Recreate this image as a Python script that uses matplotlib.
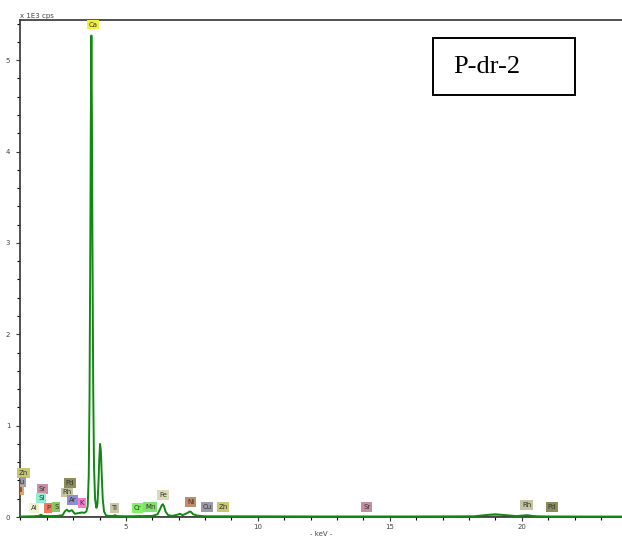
import matplotlib
matplotlib.use("Agg")
import matplotlib.pyplot as plt
from matplotlib.ticker import MultipleLocator
from matplotlib.patches import Rectangle

# Spectrum (keV vs. x1E3 cps)
energy_kev = [1.0, 1.5, 1.7, 1.78, 1.86, 2.1, 2.4, 2.6, 2.68, 2.76, 2.84, 2.95, 3.02, 3.07,
              3.15, 3.25, 3.33, 3.42, 3.50, 3.55, 3.59, 3.62, 3.65, 3.67, 3.69, 3.71, 3.73,
              3.76, 3.79, 3.83, 3.88, 3.92, 3.96, 3.99, 4.02, 4.05, 4.08, 4.12, 4.17, 4.25,
              4.5, 4.58, 4.66, 5.0, 5.5, 6.0, 6.2, 6.3, 6.36, 6.40, 6.44, 6.50, 6.6, 6.75,
              6.95, 7.05, 7.15, 7.3, 7.42, 7.47, 7.55, 7.7, 8.0, 9.0, 12.0, 16.0, 18.2,
              18.6, 19.0, 19.4, 19.8, 20.0, 20.2, 20.4, 20.6, 21.0, 22.5, 23.8]
counts_kcps = [0.005, 0.008, 0.012, 0.025, 0.012, 0.01, 0.012, 0.02, 0.06, 0.08, 0.06, 0.075,
               0.05, 0.035, 0.04, 0.045, 0.05, 0.045, 0.06, 0.12, 0.45, 1.3, 3.0, 4.4, 5.27,
               4.4, 3.0, 1.4, 0.55, 0.2, 0.1, 0.14, 0.38, 0.64, 0.80, 0.72, 0.48, 0.2, 0.06,
               0.015, 0.01, 0.02, 0.01, 0.008, 0.01, 0.012, 0.03, 0.09, 0.13, 0.14, 0.12, 0.06,
               0.02, 0.012, 0.025, 0.035, 0.02, 0.04, 0.06, 0.055, 0.03, 0.015, 0.008, 0.008,
               0.006, 0.006, 0.008, 0.02, 0.03, 0.02, 0.01, 0.015, 0.02, 0.012, 0.008, 0.006,
               0.005, 0.005]

# Background / fit curve (grey)
bg_kev = [1.0, 18.2, 18.6, 19.0, 19.4, 19.8, 20.0, 20.2, 20.4, 21.0, 23.8]
bg_kcps = [0.0, 0.0, 0.008, 0.012, 0.008, 0.0, 0.004, 0.008, 0.004, 0.0, 0.0]

# Element labels
label_text = ["Ca", "Zn", "Cu", "Ni", "Al", "P", "S", "Sr", "Si", "Pd", "Rh", "Ar", "K",
              "Ti", "Cr", "Mn", "Fe", "Ni", "Cu", "Zn", "Sr", "Rh", "Pd"]
label_kev = [3.75, 1.12, 0.99, 0.93, 1.52, 2.05, 2.36, 1.83, 1.79, 2.88, 2.77, 2.99, 3.33,
             4.56, 5.45, 5.92, 6.40, 7.46, 8.07, 8.68, 14.13, 20.19, 21.14]
label_y = [5.39, 0.48, 0.385, 0.295, 0.10, 0.10, 0.11, 0.305, 0.21, 0.37, 0.27, 0.185, 0.155,
           0.10, 0.10, 0.11, 0.24, 0.165, 0.11, 0.11, 0.11, 0.13, 0.11]
label_color = ["#f2f03c", "#c8c870", "#9a9aa8", "#e0a070", "#f4f4cc", "#f27a5a", "#8cc860",
               "#c890a0", "#8ef0d0", "#8c8c5c", "#c4c4a0", "#8e8ed2", "#f07ccc",
               "#c8c8a8", "#84f064", "#80e070", "#dcdcb4", "#c08c6c", "#9a9aa8", "#c8c870",
               "#c490a0", "#c4c4a0", "#8c8c5c"]

fig = plt.figure(figsize=(6.22, 5.38), dpi=100)
ax = fig.add_axes([20 / 622, 1 - 517 / 538, 602 / 622, 497 / 538])

ax.plot(bg_kev, bg_kcps, color="#909090", lw=1.0, zorder=2)
ax.plot(energy_kev, counts_kcps, color="#118811", lw=1.4, zorder=3)

ax.set_xlim(0.985, 23.8)
ax.set_ylim(0, 5.44)

ax.xaxis.set_major_locator(MultipleLocator(5))
ax.xaxis.set_minor_locator(MultipleLocator(1))
ax.yaxis.set_major_locator(MultipleLocator(1))
ax.yaxis.set_minor_locator(MultipleLocator(0.2))
ax.tick_params(axis="both", which="major", direction="out", length=3, width=0.8,
               labelsize=5, pad=2, colors="#333333")
ax.tick_params(axis="both", which="minor", direction="out", length=2.5, width=0.8)
ax.tick_params(axis="x", labelcolor="#444444")
ax.tick_params(axis="y", labelcolor="#444444", pad=4)

ax.spines["right"].set_visible(False)
for s in ["left", "bottom", "top"]:
    ax.spines[s].set_color("#333333")
    ax.spines[s].set_linewidth(1.2)

ax.set_xlabel("- keV -", fontsize=5, labelpad=1, color="#444444")
ax.text(0.0, 1.003, "x 1E3 cps", transform=ax.transAxes, fontsize=5, color="#444444",
        ha="left", va="bottom")

for i, (t, xk, yv, c) in enumerate(zip(label_text, label_kev, label_y, label_color)):
    ax.text(xk, yv, t, fontsize=5, ha="center", va="center", color="#333333", zorder=5,
            clip_on=(i in (2, 3)),
            bbox=dict(boxstyle="square,pad=0.25", facecolor=c, edgecolor="none"))

ax.add_patch(Rectangle((0.686, 0.849), 0.236, 0.115, transform=ax.transAxes,
                       facecolor="white", edgecolor="black", lw=1.4, zorder=6))
ax.text(0.719, 0.905, "P-dr-2", transform=ax.transAxes, fontsize=19,
        family="Liberation Serif", ha="left", va="center", zorder=7)

fig.savefig("out.png", dpi=100)
